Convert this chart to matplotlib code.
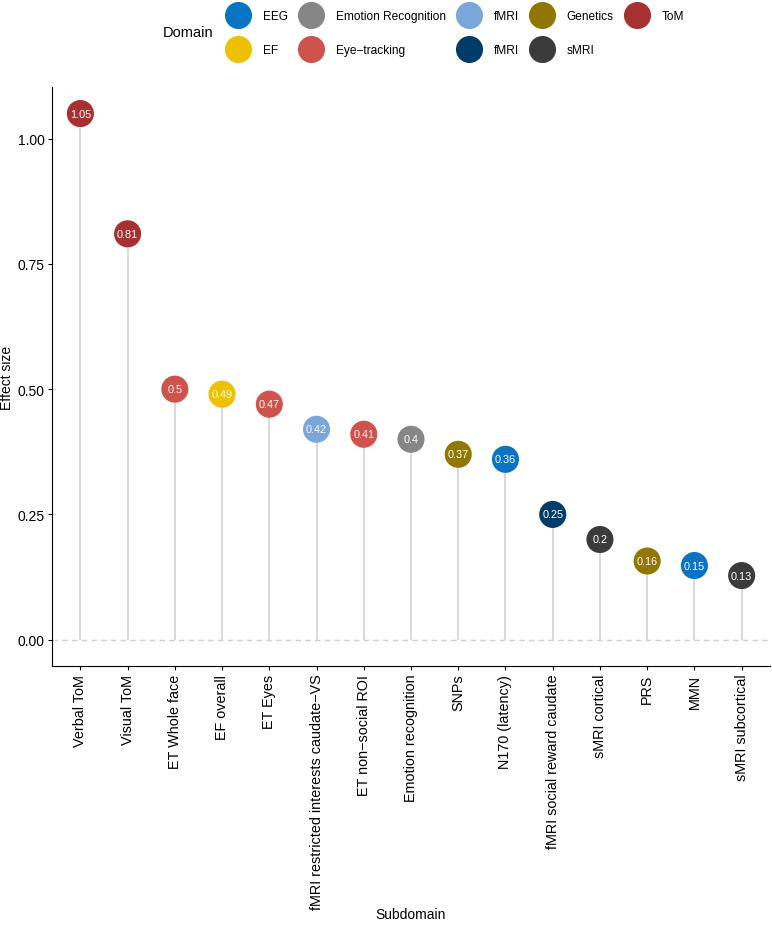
import numpy as np
import matplotlib.pyplot as plt
from matplotlib.lines import Line2D

plt.rcParams['font.family'] = ['Liberation Sans', 'DejaVu Sans']

# Data
subdomains = ["Verbal ToM", "Visual ToM", "ET Whole face", "EF overall", "ET Eyes",
              "fMRI restricted interests caudate\u2212VS", "ET non\u2212social ROI",
              "Emotion recognition", "SNPs", "N170 (latency)", "fMRI social reward caudate",
              "sMRI cortical", "PRS", "MMN", "sMRI subcortical"]
effect = [1.05, 0.81, 0.50, 0.49, 0.47, 0.42, 0.41, 0.40, 0.37, 0.36, 0.25, 0.20, 0.157, 0.148, 0.128]
domain = ["ToM", "ToM", "Eye-tracking", "EF", "Eye-tracking", "fMRI_rest", "Eye-tracking",
          "Emotion Recognition", "Genetics", "EEG", "fMRI_soc", "sMRI", "Genetics", "EEG", "sMRI"]

legend_keys = ["EEG", "EF", "Emotion Recognition", "Eye-tracking", "fMRI_rest", "fMRI_soc",
               "Genetics", "sMRI", "ToM"]
legend_labels = ["EEG", "EF", "Emotion Recognition", "Eye\u2212tracking", "fMRI", "fMRI",
                 "Genetics", "sMRI", "ToM"]
colors = {"EEG": "#0A74C4", "EF": "#EFC000", "Emotion Recognition": "#868686",
          "Eye-tracking": "#CD534C", "fMRI_rest": "#7AA6DC", "fMRI_soc": "#003C67",
          "Genetics": "#8F7700", "sMRI": "#3B3B3B", "ToM": "#A73030"}

fig = plt.figure(figsize=(7.72, 9.29), dpi=100)
ax = fig.add_axes([0.0674, 0.282, 0.930, 0.623])

x = np.arange(len(subdomains))
ax.axhline(0, color="#D0D0D0", linestyle=(0, (4, 3)), linewidth=1, zorder=1)
ax.vlines(x, 0, effect, color="#D3D3D3", linewidth=1.2, zorder=2)
ax.scatter(x, effect, s=19.5 ** 2, c=[colors[d] for d in domain], edgecolors="none", zorder=3)
for xi, v in zip(x, effect):
    ax.text(xi, v, f"{round(v, 2):g}", color="white", fontsize=7.8,
            ha="center", va="center", zorder=4)

ax.set_xlim(-0.6, len(subdomains) - 0.4)
ax.set_ylim(-0.0525, 1.1025)
ax.set_yticks([0, 0.25, 0.5, 0.75, 1.0])
ax.set_yticklabels(["0.00", "0.25", "0.50", "0.75", "1.00"], fontsize=10)
ax.set_xticks(x)
ax.set_xticklabels(subdomains, rotation=90, fontsize=10.4)
ax.tick_params(length=3, width=0.8, pad=2.5, color="black", labelcolor="black")
for s in ["top", "right"]:
    ax.spines[s].set_visible(False)
ax.set_ylabel("Effect size", fontsize=10)
ax.yaxis.set_label_coords(-0.053, 0.5)
ax.set_xlabel("Subdomain", fontsize=10)
ax.xaxis.set_label_coords(0.5, -0.416)

handles = [Line2D([], [], marker="o", linestyle="none", markersize=19.5,
                  markerfacecolor=colors[k], markeredgecolor="none") for k in legend_keys]
fig.legend(handles, legend_labels, loc="center left", bbox_to_anchor=(0.291, 0.9635),
           ncol=5, frameon=False, fontsize=8.6, handletextpad=0.9, columnspacing=0.8,
           labelspacing=1.85, borderpad=0, borderaxespad=0, handlelength=2.3)
fig.text(0.211, 0.9645, "Domain", fontsize=10.5, ha="left", va="center")

fig.savefig("out.png", dpi=100)
